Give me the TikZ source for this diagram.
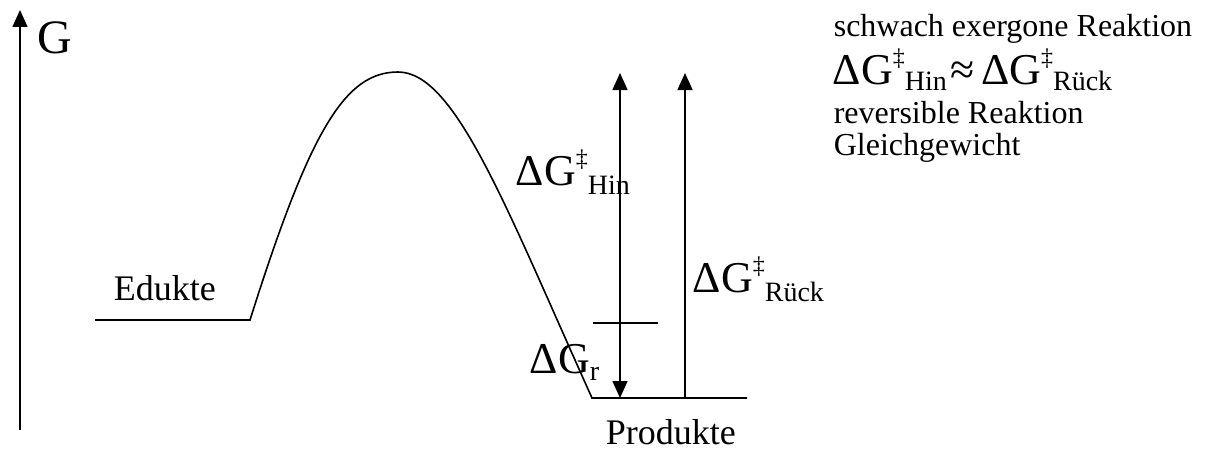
\documentclass[tikz,border=0pt]{standalone}
\usepackage{fontspec}
\setmainfont{Liberation Serif}
\usetikzlibrary{arrows.meta}

% sizes for the labels
\newcommand{\txtsz}{\fontsize{32}{34}\selectfont}
\newcommand{\lblsz}{\fontsize{36}{38}\selectfont}
\newcommand{\bigsz}{\fontsize{44}{46}\selectfont}
\newcommand{\subsz}{\fontsize{28}{30}\selectfont}
\newcommand{\dGact}[2][9pt]{{\bigsz ΔG}\raisebox{18.5pt}{\fontsize{24}{26}\selectfont ‡}\raisebox{-#1}{\subsz #2}}

\begin{document}
\begin{tikzpicture}[x=1pt,y=-1pt,line width=1.6pt,
  tip/.style={-{Triangle[length=17pt,width=15pt]}},
  tips/.style={{Triangle[length=17pt,width=15pt]}-{Triangle[length=17pt,width=15pt]}},
  lbl/.style={inner sep=0pt,anchor=base west}]

  \useasboundingbox (0,0) rectangle (1206,452);

  % Energy axis
  \coordinate (axB) at (20,430);
  \coordinate (axT) at (20,10);
  \draw[tip] (axB) -- (axT);
  \node[lbl,font=\fontsize{48}{50}\selectfont] (G) at (37,54) {G};

  % Reaction profile
  \coordinate (edL) at (95,320);
  \coordinate (edR) at (250,320);
  \coordinate (ts) at (398,72);
  \coordinate (prL) at (592,398);
  \coordinate (prR) at (747,398);
  \draw (edL) -- (edR) .. controls (310,130) and (345,72) .. (ts)
    .. controls (455,72) and (505,205) .. (prL) -- (prR);

  \node[lbl,font=\lblsz] (edukte) at (113,300) {Edukte};
  \node[lbl,font=\lblsz] (produkte) at (605,444) {Produkte};

  % Level of the educts
  \coordinate (lvL) at (593,323);
  \coordinate (lvR) at (658,323);
  \draw (lvL) -- (lvR);

  % Activation energies
  \coordinate (hinT) at (620,73);
  \coordinate (hinB) at (620,398);
  \coordinate (rueT) at (685,73);
  \coordinate (rueB) at (685,398);
  \draw[tips] (hinB) -- (hinT);
  \draw[tip] (rueB) -- (rueT);

  \node[lbl] (dGhin) at (515,185) {\dGact{Hin}};
  \node[lbl] (dGrue) at (692,292) {\dGact{Rück}};
  \node[lbl] (dGr) at (529,373) {{\bigsz ΔG}\raisebox{-7pt}{\subsz r}};

  % Description
  \node[lbl,font=\txtsz] (t1) at (833,37) {schwach exergone Reaktion};
  \node[lbl] (t2) at (832,84) {\dGact[6pt]{Hin}\kern4pt{\bigsz ≈}\kern6pt\dGact[6pt]{Rück}};
  \node[lbl,font=\txtsz] (t3) at (833,123) {reversible Reaktion};
  \node[lbl,font=\txtsz] (t4) at (833,155) {Gleichgewicht};

\end{tikzpicture}
\end{document}
